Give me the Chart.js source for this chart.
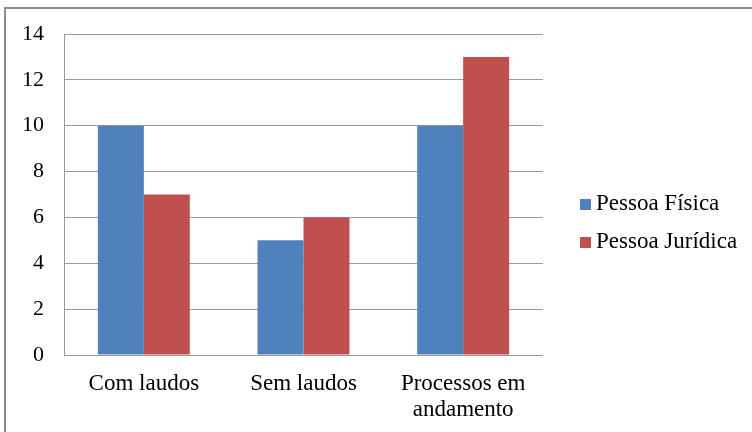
<!DOCTYPE html>
<html>
<head>
<meta charset="utf-8">
<script src="https://cdn.jsdelivr.net/npm/chart.js@4/dist/chart.umd.min.js"></script>
<style>
  html, body { margin: 0; padding: 0; background: #fff; }
  #wrap { width: 752px; height: 432px; position: relative; }
</style>
</head>
<body>
<div id="wrap"><canvas id="c" width="752" height="432"></canvas></div>
<script>
// Categories and series
const categories = ['Com laudos', 'Sem laudos', ['Processos em', 'andamento']];
const seriesNames = ['Pessoa Física', 'Pessoa Jurídica'];
const pessoaFisica = [10, 5, 10];
const pessoaJuridica = [7, 6, 13];
const yMin = 0, yMax = 14, yStep = 2;

const FONT = "'Liberation Serif', 'Times New Roman', serif";
const BLUE = '#4F81BD';
const RED = '#C0504D';

// Chart frame (top and left edges) plus white background
const framePlugin = {
  id: 'frame',
  beforeDraw(chart) {
    const ctx = chart.ctx;
    ctx.save();
    ctx.fillStyle = '#fff';
    ctx.fillRect(0, 0, chart.width, chart.height);
    ctx.strokeStyle = '#8c8c8c';
    ctx.lineWidth = 2;
    ctx.beginPath();
    ctx.moveTo(5, chart.height);
    ctx.lineTo(5, 8);
    ctx.lineTo(chart.width, 8);
    ctx.stroke();
    ctx.restore();
  }
};

// Legend on the right, built from the dataset labels and colours
const sideLegend = {
  id: 'sideLegend',
  afterDraw(chart) {
    const ctx = chart.ctx;
    ctx.save();
    ctx.font = '23px ' + FONT;
    ctx.textBaseline = 'middle';
    ctx.textAlign = 'left';
    const x = 580, y0 = 204, gap = 38;
    chart.data.datasets.forEach((ds, i) => {
      const y = y0 + i * gap;
      ctx.fillStyle = ds.backgroundColor;
      ctx.fillRect(x, y - 5, 11, 11);
      ctx.fillStyle = '#000';
      ctx.fillText(ds.label, x + 16, y);
    });
    ctx.restore();
  }
};

function build() {
  new Chart(document.getElementById('c'), {
    type: 'bar',
    data: {
      labels: categories,
      datasets: [
        { label: seriesNames[0], data: pessoaFisica, backgroundColor: BLUE, borderWidth: 0 },
        { label: seriesNames[1], data: pessoaJuridica, backgroundColor: RED, borderWidth: 0 }
      ]
    },
    options: {
      responsive: false,
      animation: false,
      layout: { padding: { left: 0, top: 34, right: 209, bottom: 0 } },
      plugins: {
        legend: { display: false },
        tooltip: { enabled: false }
      },
      datasets: {
        bar: { categoryPercentage: 0.576, barPercentage: 1.0 }
      },
      scales: {
        x: {
          grid: { display: false },
          border: { display: false },
          ticks: {
            color: '#000',
            font: { family: FONT, size: 23, lineHeight: 1.13 },
            padding: 8,
            maxRotation: 0,
            autoSkip: false
          },
          afterFit(scale) { scale.height = 77; }
        },
        y: {
          min: yMin,
          max: yMax,
          grid: { color: '#9a9a9a', lineWidth: 1, drawTicks: false },
          border: { display: true, color: '#9a9a9a', width: 1 },
          ticks: {
            stepSize: yStep,
            color: '#000',
            font: { family: FONT, size: 22 },
            padding: 20
          },
          afterFit(scale) { scale.width = 64; }
        }
      }
    },
    plugins: [framePlugin, sideLegend]
  });
}

Chart.defaults.font.family = FONT;
if (document.fonts && document.fonts.load) {
  document.fonts.load("22px 'Liberation Serif'").then(build, build);
} else {
  build();
}
</script>
</body>
</html>
